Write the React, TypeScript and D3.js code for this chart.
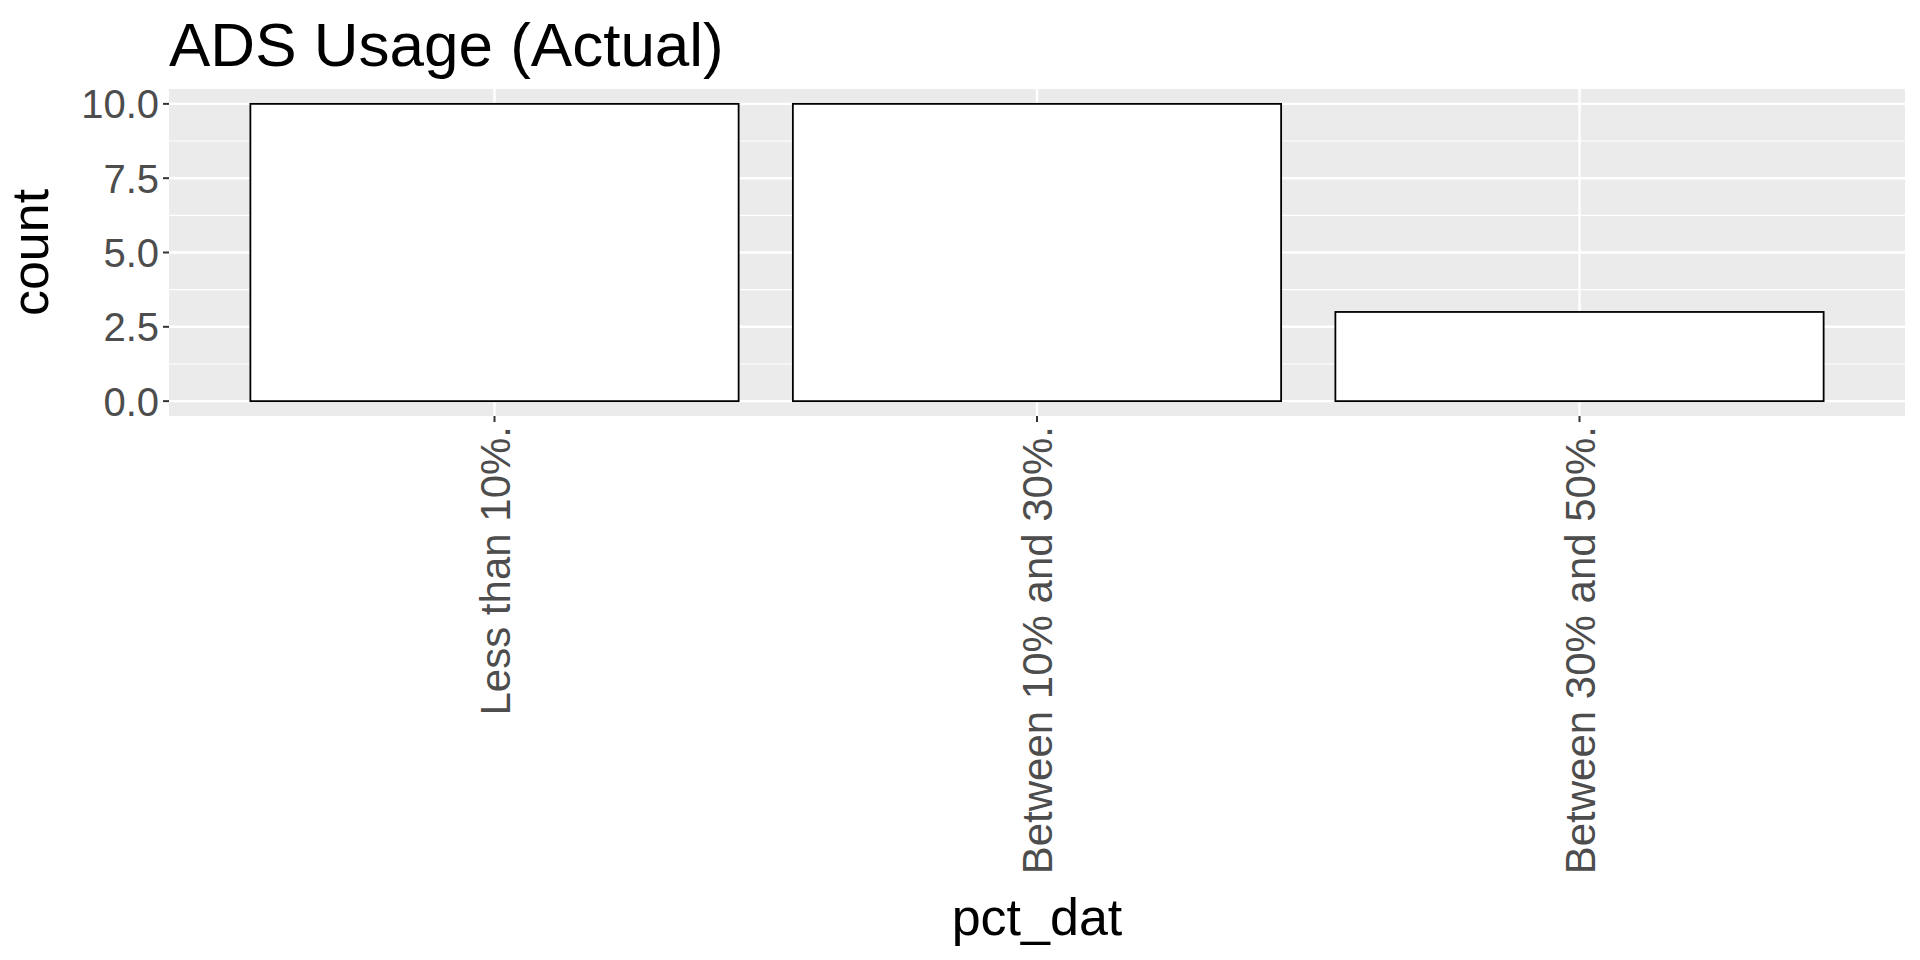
import React from "react";
import * as d3 from "d3";

const categories = ["Less than 10%.", "Between 10% and 30%.", "Between 30% and 50%."];
const counts = [10, 10, 3];
const yTicks = [0, 2.5, 5, 7.5, 10];

export default function App() {
  const W = 1920, H = 960;
  const L = 169, R = 1905, T = 89, B = 416;
  const x = d3.scaleLinear().domain([0.4, categories.length + 0.6]).range([L, R]);
  const bw = x(0.9) - x(0);
  const y = d3.scaleLinear().domain([-0.5, 10.5]).range([B, T]);
  const minor = [1.25, 3.75, 6.25, 8.75];
  const font = "Liberation Sans, Arial, sans-serif";
  return (
    <svg width={W} height={H} style={{ position: "absolute", left: 0, top: 0, background: "#fff" }} fontFamily={font}>
      <rect x={L} y={T} width={R - L} height={B - T} fill="#ebebeb" />
      {minor.map(v => <line key={"m" + v} x1={L} x2={R} y1={y(v)} y2={y(v)} stroke="#fff" strokeWidth={1.2} />)}
      {yTicks.map(v => <line key={"g" + v} x1={L} x2={R} y1={y(v)} y2={y(v)} stroke="#fff" strokeWidth={2.4} />)}
      {categories.map((c, i) => {
        const cx = x(i + 1);
        return <line key={"v" + c} x1={cx} x2={cx} y1={T} y2={B} stroke="#fff" strokeWidth={2.4} />;
      })}
      {categories.map((c, i) => (
        <rect key={c} x={x(i + 1) - bw / 2} y={y(counts[i])} width={bw} height={y(0) - y(counts[i])} fill="#fff" stroke="#000" strokeWidth={1.8} />
      ))}
      {yTicks.map(v => (
        <g key={"t" + v}>
          <line x1={L - 6} x2={L} y1={y(v)} y2={y(v)} stroke="#333" strokeWidth={2} />
          <text x={L - 10} y={y(v)} dy="0.36em" textAnchor="end" fontSize={40} fill="#4d4d4d">{v.toFixed(1)}</text>
        </g>
      ))}
      {categories.map((c, i) => {
        const cx = x(i + 1);
        return (
          <g key={"xt" + c}>
            <line x1={cx} x2={cx} y1={B} y2={B + 6} stroke="#333" strokeWidth={2} />
            <text transform={`translate(${cx},${B + 10}) rotate(-90)`} dy="0.36em" textAnchor="end" fontSize={42} fill="#4d4d4d">{c}</text>
          </g>
        );
      })}
      <text x={L} y={66} fontSize={62} fill="#000">ADS Usage (Actual)</text>
      <text transform={`translate(48,${(T + B) / 2}) rotate(-90)`} textAnchor="middle" fontSize={52} fill="#000">count</text>
      <text x={(L + R) / 2} y={935} textAnchor="middle" fontSize={52} fill="#000">pct_dat</text>
    </svg>
  );
}
